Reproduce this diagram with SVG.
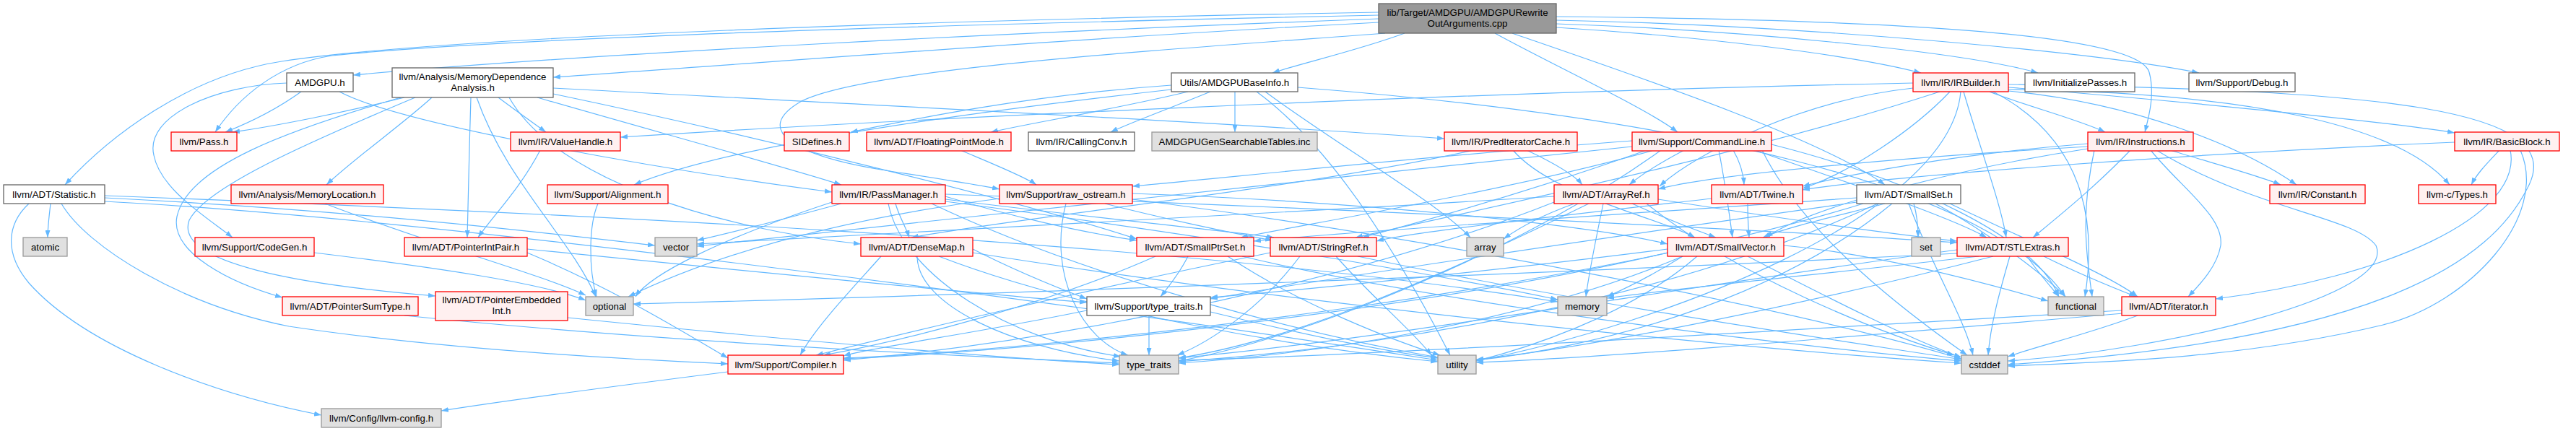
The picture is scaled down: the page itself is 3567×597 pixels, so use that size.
<svg xmlns="http://www.w3.org/2000/svg" width="3567" height="597" viewBox="0 0 3567 597">
<style>
.e{fill:none;stroke:#63b8ff;stroke-width:1.2;marker-end:url(#a)}
rect{stroke-width:1.3}
.w rect{fill:#ffffff;stroke:#666666}
.r rect{fill:#fff0f0;stroke:#ff0000}
.g rect{fill:#e0e0e0;stroke:#999999}
.k rect{fill:#999999;stroke:#666666}
text{font-family:"Liberation Sans",Arial,sans-serif;font-size:13.3px;text-anchor:middle;fill:#000000}
</style>
<defs>
<marker id="a" viewBox="0 0 10 7" refX="10" refY="3.5" markerWidth="10" markerHeight="7" markerUnits="userSpaceOnUse" orient="auto"><path d="M0,0L10,3.5L0,7z" fill="#63b8ff"/></marker>
</defs>
<rect width="3567" height="597" fill="#ffffff"/>
<g id="edges">
<path class="e" d="M1909,17 C1300,28 620,50 390,85 C260,105 150,190 90,256"/>
<path class="e" d="M1909,21 C1300,34 700,52 460,77 C385,88 330,135 298,183"/>
<path class="e" d="M1909,26 C1400,45 800,75 489,104"/>
<path class="e" d="M1909,31 C1500,52 1100,84 766,107"/>
<path class="e" d="M1918,46 C1600,70 1200,95 1110,140 C1040,180 1100,215 1220,235 C1290,246 1350,255 1384,262"/>
<path class="e" d="M1945,46 C1880,70 1800,88 1762,101"/>
<path class="e" d="M2070,46 C2150,90 2280,150 2323,183"/>
<path class="e" d="M2094,46 C2250,100 2520,190 2610,256"/>
<path class="e" d="M2155,38 C2350,50 2560,75 2660,101"/>
<path class="e" d="M2155,33 C2420,42 2720,72 2822,101"/>
<path class="e" d="M2155,28 C2500,35 2900,72 3045,101"/>
<path class="e" d="M2155,23 C2600,27 2960,45 2976,100 C2984,130 2976,160 2970,183"/>
<path class="e" d="M417,127 C385,150 345,170 312,183"/>
<path class="e" d="M397,115 C300,118 200,160 213,215 C222,262 285,300 322,329"/>
<path class="e" d="M470,127 C560,175 950,240 1152,266"/>
<path class="e" d="M560,135 C480,155 380,175 322,183"/>
<path class="e" d="M598,135 C560,170 490,220 452,256"/>
<path class="e" d="M690,135 C710,150 735,168 756,183"/>
<path class="e" d="M652,135 C650,200 648,280 647,329"/>
<path class="e" d="M555,135 C400,180 260,230 245,300 C235,350 320,392 391,412"/>
<path class="e" d="M575,135 C420,200 285,260 262,305 C240,365 420,395 603,410"/>
<path class="e" d="M744,135 C900,180 1100,235 1165,256"/>
<path class="e" d="M766,122 C1200,145 1700,170 2000,192"/>
<path class="e" d="M705,135 C770,250 1000,318 1192,338"/>
<path class="e" d="M766,130 C1100,200 1450,290 1574,331"/>
<path class="e" d="M660,135 C700,250 790,330 825,411"/>
<path class="e" d="M1622,118 C1420,132 1250,168 1178,183"/>
<path class="e" d="M1645,127 C1550,150 1420,172 1372,183"/>
<path class="e" d="M1676,127 C1620,150 1560,172 1538,183"/>
<path class="e" d="M1710,127 L1710,183"/>
<path class="e" d="M1622,124 C1300,160 1000,205 878,256"/>
<path class="e" d="M1752,127 C1850,200 1990,280 2036,329"/>
<path class="e" d="M1740,127 C1840,200 1930,340 2008,492"/>
<path class="e" d="M1797,121 C2300,160 2750,250 2860,411"/>
<path class="e" d="M2649,115 C2000,128 1200,168 859,190"/>
<path class="e" d="M2755,127 C2800,145 2880,166 2915,183"/>
<path class="e" d="M2781,121 C3000,138 3300,168 3399,184"/>
<path class="e" d="M2781,126 C2950,142 3100,200 3180,256"/>
<path class="e" d="M2781,124 C3100,128 3320,170 3392,256"/>
<path class="e" d="M2649,122 C2500,138 2350,210 2298,258"/>
<path class="e" d="M2700,127 C2650,180 2560,240 2496,261"/>
<path class="e" d="M2719,127 C2740,200 2770,280 2778,329"/>
<path class="e" d="M2686,127 C2400,220 2000,300 1877,329"/>
<path class="e" d="M2760,127 C2900,200 2900,330 2887,411"/>
<path class="e" d="M2715,127 C2700,300 2300,450 2044,500"/>
<path class="e" d="M2781,117 C3300,125 3560,150 3500,260 C3450,360 3300,470 2780,505"/>
<path class="e" d="M3005,208 C3060,225 3130,244 3158,256"/>
<path class="e" d="M2891,199 C2700,214 2550,244 2496,258"/>
<path class="e" d="M2891,203 C2600,220 2360,244 2296,262"/>
<path class="e" d="M2950,208 C2900,260 2850,300 2815,329"/>
<path class="e" d="M2891,206 C2700,235 2500,290 2445,329"/>
<path class="e" d="M2978,208 C3020,260 3080,300 3075,340 C3070,370 3045,395 3030,411"/>
<path class="e" d="M2986,208 C3120,290 3260,300 3290,340 C3320,410 3000,485 2780,500"/>
<path class="e" d="M2900,208 C2880,300 2890,360 2897,411"/>
<path class="e" d="M3461,208 C3445,225 3430,240 3422,256"/>
<path class="e" d="M3399,197 C3000,214 2600,246 2496,263"/>
<path class="e" d="M3476,208 C3495,300 3300,385 3068,414"/>
<path class="e" d="M3490,208 C3530,300 3420,420 3300,450 C3100,498 2900,502 2780,507"/>
<path class="e" d="M2332,208 C2300,225 2270,244 2256,256"/>
<path class="e" d="M2400,208 C2410,225 2414,240 2415,256"/>
<path class="e" d="M2260,195 C2000,214 1700,246 1568,258"/>
<path class="e" d="M2290,208 C2100,262 1800,312 1718,329"/>
<path class="e" d="M2380,208 C2390,260 2395,300 2399,329"/>
<path class="e" d="M2280,208 C2100,272 1950,312 1886,329"/>
<path class="e" d="M2430,208 C2550,250 2700,300 2751,329"/>
<path class="e" d="M2260,203 C1800,252 1200,312 965,341"/>
<path class="e" d="M2300,208 C2100,352 1800,470 1632,500"/>
<path class="e" d="M2440,208 C2500,330 2650,440 2724,492"/>
<path class="e" d="M2453,200 C2650,250 2820,330 2851,411"/>
<path class="e" d="M2114,208 C2150,225 2180,242 2191,256"/>
<path class="e" d="M2040,208 C1800,262 1400,302 1262,329"/>
<path class="e" d="M2095,208 C2150,272 2300,302 2347,329"/>
<path class="e" d="M2180,282 C2130,300 2100,318 2082,331"/>
<path class="e" d="M2220,282 C2210,330 2200,380 2196,411"/>
<path class="e" d="M2152,272 C1700,300 1200,326 965,338"/>
<path class="e" d="M2260,282 C2300,300 2340,316 2376,329"/>
<path class="e" d="M2296,276 C2450,300 2600,322 2710,334"/>
<path class="e" d="M2200,282 C2000,380 1800,470 1632,496"/>
<path class="e" d="M2280,282 C2400,380 2600,460 2706,492"/>
<path class="e" d="M2152,280 C1900,380 1500,470 1168,499"/>
<path class="e" d="M2420,282 C2420,300 2421,316 2422,329"/>
<path class="e" d="M2370,275 C2150,300 1950,322 1906,334"/>
<path class="e" d="M2650,282 C2655,300 2656,315 2656,329"/>
<path class="e" d="M2571,274 C2200,300 1850,322 1736,334"/>
<path class="e" d="M2610,282 C2540,300 2470,316 2441,329"/>
<path class="e" d="M2700,282 C2800,330 2920,380 2960,411"/>
<path class="e" d="M2580,282 C2200,400 1500,482 1168,496"/>
<path class="e" d="M2571,280 C2200,332 1800,392 1676,414"/>
<path class="e" d="M2643,282 C2680,380 2720,440 2732,492"/>
<path class="e" d="M2680,282 C2750,320 2830,380 2860,411"/>
<path class="e" d="M2600,282 C2300,422 1900,482 1632,501"/>
<path class="e" d="M2620,282 C2450,422 2200,482 2044,499"/>
<path class="e" d="M2807,355 C2820,375 2838,395 2851,411"/>
<path class="e" d="M2830,355 C2880,380 2930,400 2958,411"/>
<path class="e" d="M2783,355 C2770,400 2756,450 2753,492"/>
<path class="e" d="M2740,355 C2500,382 2300,402 2225,413"/>
<path class="e" d="M2710,346 C2300,402 1900,472 1632,496"/>
<path class="e" d="M2760,355 C2500,422 2200,482 2044,498"/>
<path class="e" d="M2710,351 C2000,386 1200,413 877,421"/>
<path class="e" d="M2309,350 C2000,422 1500,482 1168,497"/>
<path class="e" d="M2309,345 C2100,372 1800,402 1676,412"/>
<path class="e" d="M2330,355 C2290,380 2250,400 2225,411"/>
<path class="e" d="M2420,355 C2550,422 2650,472 2716,495"/>
<path class="e" d="M2470,340 C2600,352 2750,392 2836,417"/>
<path class="e" d="M2330,355 C2100,452 1800,492 1632,503"/>
<path class="e" d="M2350,355 C2250,442 2100,486 2044,500"/>
<path class="e" d="M1645,355 C1635,375 1620,395 1607,411"/>
<path class="e" d="M1600,355 C1450,422 1250,472 1140,492"/>
<path class="e" d="M1720,355 C2000,422 2500,482 2716,500"/>
<path class="e" d="M1700,355 C1800,422 1930,472 1994,492"/>
<path class="e" d="M1759,350 C1500,402 1250,462 1130,492"/>
<path class="e" d="M1800,355 C1750,422 1680,472 1630,492"/>
<path class="e" d="M1850,355 C1900,412 1960,462 1982,492"/>
<path class="e" d="M1880,355 C2200,422 2550,472 2716,498"/>
<path class="e" d="M1220,355 C1180,400 1130,452 1108,492"/>
<path class="e" d="M1347,345 C1400,372 1460,397 1505,414"/>
<path class="e" d="M1270,355 C1270,422 1400,482 1550,500"/>
<path class="e" d="M1300,355 C1500,432 1800,482 1991,501"/>
<path class="e" d="M1347,350 C1800,422 2400,482 2716,503"/>
<path class="e" d="M1505,430 C1350,462 1200,482 1168,493"/>
<path class="e" d="M1591,437 L1591,492"/>
<path class="e" d="M1676,432 C1800,462 1920,487 1991,496"/>
<path class="e" d="M2960,437 C2900,460 2820,480 2780,494"/>
<path class="e" d="M2938,430 C2400,462 1900,492 1632,499"/>
<path class="e" d="M2940,434 C2500,472 2200,497 2044,502"/>
<path class="e" d="M1008,515 C850,535 700,555 611,569"/>
<path class="e" d="M730,350 C850,400 950,462 1008,496"/>
<path class="e" d="M730,345 C1000,372 1300,402 1505,419"/>
<path class="e" d="M560,437 C900,472 1300,492 1550,503"/>
<path class="e" d="M786,440 C1100,472 1400,497 1550,505"/>
<path class="e" d="M70,282 C68,300 66,315 66,329"/>
<path class="e" d="M40,282 C10,310 5,350 40,392 C120,482 300,547 445,575"/>
<path class="e" d="M85,282 C120,342 250,422 400,452 C600,482 850,497 1008,504"/>
<path class="e" d="M145,274 C500,292 750,322 907,340"/>
<path class="e" d="M145,271 C700,292 1600,330 2157,418"/>
<path class="e" d="M145,279 C600,302 1500,422 1991,499"/>
<path class="e" d="M450,282 C600,340 750,380 811,409"/>
<path class="e" d="M435,350 C600,370 750,392 811,416"/>
<path class="e" d="M828,282 C815,312 815,372 826,411"/>
<path class="e" d="M1240,282 C1245,300 1255,316 1259,329"/>
<path class="e" d="M1309,272 C1400,300 1500,322 1574,333"/>
<path class="e" d="M1309,276 C1500,300 1700,320 1764,329"/>
<path class="e" d="M1309,269 C1900,290 2500,322 2710,336"/>
<path class="e" d="M1165,282 C1080,305 1000,325 965,333"/>
<path class="e" d="M1152,280 C1000,330 900,380 880,411"/>
<path class="e" d="M1309,279 C1700,330 2000,382 2157,415"/>
<path class="e" d="M1230,282 C1250,382 1400,472 1552,494"/>
<path class="e" d="M1290,282 C1500,382 1800,462 1991,495"/>
<path class="e" d="M1568,268 C1900,280 2200,312 2309,338"/>
<path class="e" d="M1530,282 C1600,300 1700,322 1762,333"/>
<path class="e" d="M1384,275 C1100,312 950,372 870,411"/>
<path class="e" d="M1476,282 C1450,382 1500,472 1562,492"/>
<path class="e" d="M1568,276 C2000,332 2500,432 2716,497"/>
<path class="e" d="M1330,208 C1370,225 1420,245 1435,256"/>
<path class="e" d="M748,208 C720,262 680,302 662,329"/>
</g>
<g id="root" class="k"><rect x="1909" y="5" width="246" height="41"/><text x="2032" y="21.5">lib/Target/AMDGPU/AMDGPURewrite</text><text x="2032" y="36.5">OutArguments.cpp</text></g>
<g id="n_amdgpu" class="w"><rect x="397" y="101" width="92" height="26"/><text x="443" y="118.5">AMDGPU.h</text></g>
<g id="n_memdep" class="w"><rect x="543" y="94" width="223" height="41"/><text x="654.5" y="110.5">llvm/Analysis/MemoryDependence</text><text x="654.5" y="125.5">Analysis.h</text></g>
<g id="n_utils" class="w"><rect x="1622" y="101" width="175" height="26"/><text x="1709.5" y="118.5">Utils/AMDGPUBaseInfo.h</text></g>
<g id="n_irbuilder" class="r"><rect x="2649" y="101" width="132" height="26"/><text x="2715" y="118.5">llvm/IR/IRBuilder.h</text></g>
<g id="n_initpasses" class="w"><rect x="2804" y="101" width="152" height="26"/><text x="2880" y="118.5">llvm/InitializePasses.h</text></g>
<g id="n_debug" class="w"><rect x="3031" y="101" width="147" height="26"/><text x="3104.5" y="118.5">llvm/Support/Debug.h</text></g>
<g id="n_pass" class="r"><rect x="237" y="183" width="91" height="26"/><text x="282.5" y="200.5">llvm/Pass.h</text></g>
<g id="n_valuehandle" class="r"><rect x="707" y="183" width="152" height="26"/><text x="783" y="200.5">llvm/IR/ValueHandle.h</text></g>
<g id="n_sidefines" class="r"><rect x="1086" y="183" width="90" height="26"/><text x="1131" y="200.5">SIDefines.h</text></g>
<g id="n_fpmode" class="r"><rect x="1200" y="183" width="200" height="26"/><text x="1300" y="200.5">llvm/ADT/FloatingPointMode.h</text></g>
<g id="n_callingconv" class="w"><rect x="1424" y="183" width="147" height="26"/><text x="1497.5" y="200.5">llvm/IR/CallingConv.h</text></g>
<g id="n_gentables" class="g"><rect x="1595" y="183" width="229" height="26"/><text x="1709.5" y="200.5">AMDGPUGenSearchableTables.inc</text></g>
<g id="n_prediter" class="r"><rect x="2000" y="183" width="184" height="26"/><text x="2092" y="200.5">llvm/IR/PredIteratorCache.h</text></g>
<g id="n_cmdline" class="r"><rect x="2260" y="183" width="193" height="26"/><text x="2356.5" y="200.5">llvm/Support/CommandLine.h</text></g>
<g id="n_instructions" class="r"><rect x="2891" y="183" width="146" height="26"/><text x="2964" y="200.5">llvm/IR/Instructions.h</text></g>
<g id="n_basicblock" class="r"><rect x="3399" y="183" width="145" height="26"/><text x="3471.5" y="200.5">llvm/IR/BasicBlock.h</text></g>
<g id="n_statistic" class="w"><rect x="5" y="256" width="140" height="26"/><text x="75" y="273.5">llvm/ADT/Statistic.h</text></g>
<g id="n_memloc" class="r"><rect x="320" y="256" width="211" height="26"/><text x="425.5" y="273.5">llvm/Analysis/MemoryLocation.h</text></g>
<g id="n_alignment" class="r"><rect x="758" y="256" width="167" height="26"/><text x="841.5" y="273.5">llvm/Support/Alignment.h</text></g>
<g id="n_passmanager" class="r"><rect x="1152" y="256" width="157" height="26"/><text x="1230.5" y="273.5">llvm/IR/PassManager.h</text></g>
<g id="n_rawostream" class="r"><rect x="1384" y="256" width="184" height="26"/><text x="1476" y="273.5">llvm/Support/raw_ostream.h</text></g>
<g id="n_arrayref" class="r"><rect x="2152" y="256" width="144" height="26"/><text x="2224" y="273.5">llvm/ADT/ArrayRef.h</text></g>
<g id="n_twine" class="r"><rect x="2370" y="256" width="126" height="26"/><text x="2433" y="273.5">llvm/ADT/Twine.h</text></g>
<g id="n_smallset" class="w"><rect x="2571" y="256" width="144" height="26"/><text x="2643" y="273.5">llvm/ADT/SmallSet.h</text></g>
<g id="n_constant" class="r"><rect x="3143" y="256" width="132" height="26"/><text x="3209" y="273.5">llvm/IR/Constant.h</text></g>
<g id="n_types" class="r"><rect x="3349" y="256" width="107" height="26"/><text x="3402.5" y="273.5">llvm-c/Types.h</text></g>
<g id="n_atomic" class="g"><rect x="32" y="329" width="61" height="26"/><text x="62.5" y="346.5">atomic</text></g>
<g id="n_codegen" class="r"><rect x="270" y="329" width="165" height="26"/><text x="352.5" y="346.5">llvm/Support/CodeGen.h</text></g>
<g id="n_pointerintpair" class="r"><rect x="560" y="329" width="170" height="26"/><text x="645" y="346.5">llvm/ADT/PointerIntPair.h</text></g>
<g id="n_vector" class="g"><rect x="907" y="329" width="58" height="26"/><text x="936" y="346.5">vector</text></g>
<g id="n_densemap" class="r"><rect x="1192" y="329" width="155" height="26"/><text x="1269.5" y="346.5">llvm/ADT/DenseMap.h</text></g>
<g id="n_smallptrset" class="r"><rect x="1574" y="329" width="162" height="26"/><text x="1655" y="346.5">llvm/ADT/SmallPtrSet.h</text></g>
<g id="n_stringref" class="r"><rect x="1759" y="329" width="147" height="26"/><text x="1832.5" y="346.5">llvm/ADT/StringRef.h</text></g>
<g id="n_array" class="g"><rect x="2031" y="329" width="51" height="26"/><text x="2056.5" y="346.5">array</text></g>
<g id="n_smallvector" class="r"><rect x="2309" y="329" width="161" height="26"/><text x="2389.5" y="346.5">llvm/ADT/SmallVector.h</text></g>
<g id="n_set" class="g"><rect x="2647" y="329" width="40" height="26"/><text x="2667" y="346.5">set</text></g>
<g id="n_stlextras" class="r"><rect x="2710" y="329" width="154" height="26"/><text x="2787" y="346.5">llvm/ADT/STLExtras.h</text></g>
<g id="n_pointersumtype" class="r"><rect x="391" y="411" width="188" height="26"/><text x="485" y="428.5">llvm/ADT/PointerSumType.h</text></g>
<g id="n_pointerembeddedint" class="r"><rect x="603" y="404" width="183" height="40"/><text x="694.5" y="420">llvm/ADT/PointerEmbedded</text><text x="694.5" y="435">Int.h</text></g>
<g id="n_optional" class="g"><rect x="811" y="411" width="66" height="26"/><text x="844" y="428.5">optional</text></g>
<g id="n_typetraitsh" class="w"><rect x="1505" y="411" width="171" height="26"/><text x="1590.5" y="428.5">llvm/Support/type_traits.h</text></g>
<g id="n_memory" class="g"><rect x="2157" y="411" width="68" height="26"/><text x="2191" y="428.5">memory</text></g>
<g id="n_functional" class="g"><rect x="2836" y="411" width="77" height="26"/><text x="2874.5" y="428.5">functional</text></g>
<g id="n_iterator" class="r"><rect x="2938" y="411" width="130" height="26"/><text x="3003" y="428.5">llvm/ADT/iterator.h</text></g>
<g id="n_compiler" class="r"><rect x="1008" y="492" width="160" height="26"/><text x="1088" y="509.5">llvm/Support/Compiler.h</text></g>
<g id="n_type_traits" class="g"><rect x="1550" y="492" width="82" height="26"/><text x="1591" y="509.5">type_traits</text></g>
<g id="n_utility" class="g"><rect x="1991" y="492" width="53" height="26"/><text x="2017.5" y="509.5">utility</text></g>
<g id="n_cstddef" class="g"><rect x="2716" y="492" width="64" height="26"/><text x="2748" y="509.5">cstddef</text></g>
<g id="n_llvmconfig" class="g"><rect x="445" y="566" width="166" height="26"/><text x="528" y="583.5">llvm/Config/llvm-config.h</text></g>
</svg>
